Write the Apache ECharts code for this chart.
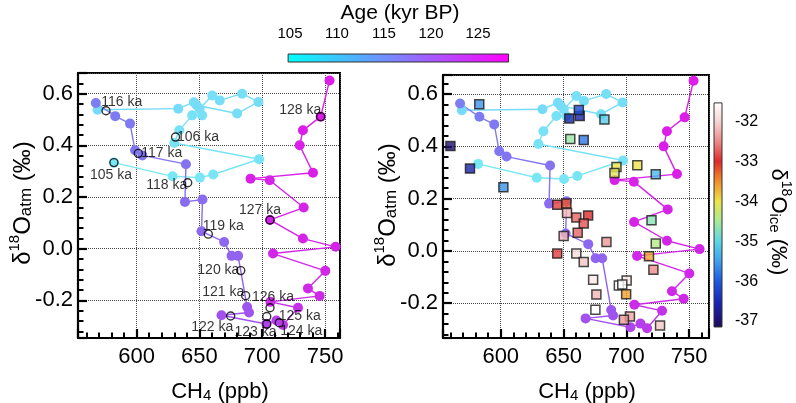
<!DOCTYPE html>
<html><head><meta charset="utf-8">
<script src="https://cdn.jsdelivr.net/npm/echarts@6/dist/echarts.min.js"></script>
<style>html,body{margin:0;padding:0;background:#fff}#c{width:796px;height:403px}</style>
</head><body><div id="c"></div>
<script>
const FONT = '"Liberation Sans", Arial, Helvetica, sans-serif';

// ---- circles (CH4 ppb, d18Oatm permil, age kyr BP), in age order ----
const dotCH4 = [582.0,628.7,650.4,661.0,697.5,630.0,634.0,644.3,652.2,650.2,660.2,666.2,684.0,697.0,680.0,647.8,645.6,633.2,569.0,
  567.6,583.0,594.8,598.8,604.6,639.3,638.5,652.5,651.7,669.7,675.6,680.8,688.0,689.5,667.6,703.3,711.3,716.6,728.5,706.5,745.7,736.4,750.2,708.6,758.4,732.4,706.2,733.0,706.0,690.7,740.4,729.8,732.4,746.5,753.6];
const dotD18O = [0.333,0.280,0.275,0.287,0.346,0.409,0.458,0.516,0.516,0.542,0.593,0.574,0.600,0.568,0.523,0.555,0.567,0.542,0.538,
  0.564,0.513,0.484,0.381,0.361,0.327,0.181,0.190,0.067,0.026,-0.028,-0.028,-0.226,-0.247,-0.258,-0.292,-0.278,-0.296,-0.229,-0.206,-0.183,-0.154,-0.086,-0.019,0.007,0.039,0.111,0.159,0.265,0.271,0.294,0.400,0.458,0.511,0.651];
const dotAge = [105.0,105.2,105.4,105.6,105.8,105.9,106.2,106.3,106.4,106.5,106.6,106.7,106.8,106.9,107.0,107.1,107.2,107.3,107.5,
  115.8,116.2,116.5,116.9,117.1,117.6,118.4,118.6,118.9,119.3,119.6,119.7,121.3,121.5,121.8,123.0,123.6,124.1,124.8,125.8,126.2,126.35,126.5,126.65,126.8,126.9,127.0,127.2,127.35,127.45,127.6,127.75,127.9,128.0,128.2];

// ---- age markers (left panel) ----
const kaNames = ['105 ka','106 ka','116 ka','117 ka','118 ka','119 ka','120 ka','121 ka','122 ka','123 ka','124 ka','125 ka','126 ka','127 ka','128 ka'];
const kaCH4 = [582.0,631.0,575.7,601.4,640.7,657.1,682.9,686.8,674.9,703.6,713.6,703.6,706.2,706.2,746.5];
const kaD18O = [0.333,0.432,0.534,0.369,0.255,0.056,-0.085,-0.182,-0.261,-0.292,-0.287,-0.263,-0.229,0.111,0.511];

// ---- squares (right panel): CH4, d18Oatm, d18Oice ----
const sqCH4 = [559.9,575.5,582.9,602.1,654.6,662.9,662.2,682.6,655.4,666.1,692.2,690.6,708.8,723.5,720.1,723.5,718.1,721.6,726.9,645.0,
  652.3,652.8,660.2,669.6,666.1,661.3,650.1,684.2,645.0,660.2,666.1,673.6,700.3,694.1,696.8,699.9,676.2,675.4,702.9,698.1];
const sqD18O = [0.401,0.315,0.561,0.244,0.507,0.516,0.539,0.503,0.428,0.424,0.321,0.298,0.328,0.293,0.117,0.028,-0.020,-0.072,-0.285,0.177,
  0.181,0.145,0.128,0.136,0.105,0.070,0.057,0.034,-0.010,-0.010,-0.042,-0.110,-0.113,-0.132,-0.128,-0.166,-0.167,-0.225,-0.251,-0.263];
const sqIce = [-37.0,-36.6,-35.6,-35.6,-36.6,-36.6,-36.1,-35.1,-34.6,-35.8,-34.0,-34.1,-34.0,-35.3,-34.7,-34.4,-33.6,-32.5,-32.1,-32.9,
  -33.2,-32.2,-32.7,-33.0,-32.8,-32.7,-32.2,-32.4,-32.9,-31.9,-32.1,-31.8,-31.8,-31.5,-31.5,-33.6,-32.2,-31.5,-32.3,-32.4];

// ---- colour bars ----
const ageBarRange = [104.8, 128.25];
const ageTickRange = [105, 125];
const iceBarRange = [-37.15, -31.52];
const iceTickRange = [-37, -32];

// ---- styles (not data) ----
const kaLabelOffset = [[-3,13],[22.5,0],[15.7,-8.4],[23.4,-0.6],[-21,2.3],[15,-8.3],[-22.4,-0.7],[-22.4,-4],[-18.5,10.7],[-11.2,7.7],[21.9,8],[33,0],[3,-10.4],[-10,-10],[-20.4,-6.7]];
const dotStops = [[105,[120,232,244]],[107.5,[118,218,248]],[116,[124,124,242]],[119,[140,105,240]],[122,[162,80,236]],[125,[198,48,232]],[128.3,[222,28,232]]];
const ageBarStops = [[0,'#00ffff'],[1,'#ff00ff']];
const iceStops = [[-37.15,'#1c0c58'],[-37.0,'#1e1070'],[-36.5,'#1828b8'],[-36.0,'#2058e0'],[-35.5,'#3fa0ee'],[-35.0,'#5cd6e6'],[-34.5,'#a8ea98'],
  [-34.0,'#ece44a'],[-33.6,'#f0a030'],[-33.3,'#ec6a28'],[-33.0,'#e02a2a'],[-32.5,'#ec8a8a'],[-32.0,'#f6d4d4'],[-31.52,'#ffffff']];

function hex(c){return [parseInt(c.slice(1,3),16),parseInt(c.slice(3,5),16),parseInt(c.slice(5,7),16)];}
function interp(stops, v){
  const s = stops.map(p => [p[0], typeof p[1]==='string'?hex(p[1]):p[1]]);
  if (v <= s[0][0]) return 'rgb('+s[0][1].join(',')+')';
  for (let i=1;i<s.length;i++){
    if (v <= s[i][0]){
      const t=(v-s[i-1][0])/(s[i][0]-s[i-1][0]);
      const c=s[i-1][1].map((a,k)=>Math.round(a+(s[i][1][k]-a)*t));
      return 'rgb('+c.join(',')+')';
    }
  }
  return 'rgb('+s[s.length-1][1].join(',')+')';
}
const dotColor = a => interp(dotStops, a);
const iceColor = v => interp(iceStops, v);
const nearMult = (v,m) => Math.abs(v/m - Math.round(v/m)) < 1e-6;

const dotData = dotCH4.map((x,i)=>[x, dotD18O[i], dotAge[i]]);
const segData = dotCH4.slice(0,-1).map((x,i)=>[x, dotD18O[i], dotAge[i], dotCH4[i+1], dotD18O[i+1]]);
const kaData = kaNames.map((n,i)=>({name:n, value:[kaCH4[i], kaD18O[i]], label:{offset:kaLabelOffset[i]}}));
const sqData = sqCH4.map((x,i)=>[x, sqD18O[i], sqIce[i]]);

function mainX(gi, min, max){
  return {gridIndex:gi, type:'value', min, max, splitNumber:4,
    axisLine:{show:true, onZero:false, lineStyle:{color:'#000', width:2.2}},
    axisTick:{show:true, inside:true, length:9, lineStyle:{color:'#000', width:2.2}},
    minorTick:{show:true, splitNumber:5, length:5.5, lineStyle:{color:'#000', width:2}},
    splitLine:{show:true, lineStyle:{color:'#444', type:'dotted', width:1}},
    axisLabel:{fontSize:22, color:'#000', fontFamily:FONT, margin:8, showMinLabel:false, showMaxLabel:false,
      formatter:v => nearMult(v,50) ? String(Math.round(v)) : ''}};
}
function mainY(gi, min, max){
  return {gridIndex:gi, type:'value', min, max, splitNumber:5,
    axisLine:{show:true, onZero:false, lineStyle:{color:'#000', width:2.2}},
    axisTick:{show:true, inside:true, length:9, lineStyle:{color:'#000', width:2.2}},
    minorTick:{show:true, splitNumber:5, length:5.5, lineStyle:{color:'#000', width:2}},
    splitLine:{show:true, lineStyle:{color:'#444', type:'dotted', width:1}},
    axisLabel:{fontSize:22, color:'#000', fontFamily:FONT, margin:5, showMinLabel:false, showMaxLabel:false,
      formatter:v => nearMult(v,0.2) ? v.toFixed(1) : ''}};
}

function segSeries(k){
  return {type:'custom', xAxisIndex:k, yAxisIndex:k, data:segData, encode:{x:[0,3], y:[1,4]}, z:2, silent:true,
    renderItem:(params, api)=>{
      const a = api.coord([api.value(0), api.value(1)]);
      const b = api.coord([api.value(3), api.value(4)]);
      return {type:'line', shape:{x1:a[0],y1:a[1],x2:b[0],y2:b[1]}, style:{stroke:dotColor(api.value(2)), lineWidth:1.4}};
    }};
}
function dotSeries(k){
  return {type:'scatter', xAxisIndex:k, yAxisIndex:k, data:dotData, symbol:'circle', symbolSize:10, z:3, silent:true,
    itemStyle:{color:p => dotColor(p.value[2]), opacity:1}};
}

const rich = (main) => ({
  m:{fontSize:main, fontFamily:FONT, lineHeight:main+4, verticalAlign:'bottom', fill:'#000', color:'#000'},
  sup:{fontSize:Math.round(main*0.64), fontFamily:FONT, lineHeight:Math.round(main*0.64), verticalAlign:'top', fill:'#000', color:'#000'},
  sub:{fontSize:Math.round(main*0.7), fontFamily:FONT, lineHeight:Math.round(main*0.5), verticalAlign:'bottom', fill:'#000', color:'#000'}
});

const chart = echarts.init(document.getElementById('c'), null, {renderer:'canvas'});
chart.setOption({
  animation:false,
  backgroundColor:'#fff',
  grid:[
    {left:78, top:73, width:262, height:265, show:true, borderColor:'#000', borderWidth:2, backgroundColor:'transparent'},
    {left:443, top:75, width:266, height:263, show:true, borderColor:'#000', borderWidth:2, backgroundColor:'transparent'},
    {left:290, top:54, width:188, height:8},
    {left:714, top:122, width:8, height:199}
  ],
  xAxis:[
    mainX(0, 553.4, 761.9),
    mainX(1, 554.0, 765.9),
    {gridIndex:2, type:'value', position:'top', min:ageTickRange[0], max:ageTickRange[1], interval:5,
      axisLine:{show:false}, splitLine:{show:false},
      axisTick:{show:true, inside:false, length:8, lineStyle:{color:'#000', width:1.4}},
      axisLabel:{fontSize:15, color:'#000', fontFamily:FONT, margin:13}},
    {gridIndex:3, type:'value', min:0, max:1, show:false}
  ],
  yAxis:[
    mainY(0, -0.346, 0.680),
    mainY(1, -0.333, 0.673),
    {gridIndex:2, type:'value', min:0, max:1, show:false},
    {gridIndex:3, type:'value', position:'right', min:iceTickRange[0], max:iceTickRange[1], interval:1,
      axisLine:{show:false}, splitLine:{show:false},
      axisTick:{show:true, inside:false, length:7, lineStyle:{color:'#000', width:1.4}},
      axisLabel:{fontSize:16, color:'#000', fontFamily:FONT, margin:13}}
  ],
  series:[
    segSeries(0), dotSeries(0),
    {type:'scatter', xAxisIndex:0, yAxisIndex:0, data:kaData, symbol:'circle', symbolSize:8, z:4, silent:true,
      itemStyle:{color:'rgba(255,255,255,0)', borderColor:'#000', borderWidth:1.4},
      label:{show:true, position:'inside', formatter:'{b}', fontSize:14, fontFamily:FONT, color:'#000'}},
    segSeries(1), dotSeries(1),
    {type:'scatter', xAxisIndex:1, yAxisIndex:1, data:sqData, symbol:'rect', symbolSize:9, z:5, silent:true,
      itemStyle:{color:p => iceColor(p.value[2]), borderColor:'#1a1a1a', borderWidth:1.5}},
    {type:'custom', xAxisIndex:2, yAxisIndex:2, data:[[ageBarRange[0], ageBarRange[1]]], encode:{x:[0,1]}, clip:false, silent:true,
      renderItem:(params, api)=>{
        const p0 = api.coord([api.value(0), 0]);
        const p1 = api.coord([api.value(1), 1]);
        return {type:'rect', shape:{x:p0[0], y:p1[1], width:p1[0]-p0[0], height:p0[1]-p1[1]},
          style:{fill:new echarts.graphic.LinearGradient(0,0,1,0, ageBarStops.map(s=>({offset:s[0], color:s[1]}))), stroke:'#333', lineWidth:1}};
      }},
    {type:'custom', xAxisIndex:3, yAxisIndex:3, data:[[iceBarRange[0], iceBarRange[1]]], encode:{y:[0,1]}, clip:false, silent:true,
      renderItem:(params, api)=>{
        const v0 = api.value(0), v1 = api.value(1);
        const p0 = api.coord([0, v0]);
        const p1 = api.coord([1, v1]);
        const stops = iceStops.map(s=>({offset:(s[0]-v0)/(v1-v0), color:s[1]}));
        return {type:'rect', shape:{x:p0[0], y:p1[1], width:p1[0]-p0[0], height:p0[1]-p1[1]},
          style:{fill:new echarts.graphic.LinearGradient(0,1,0,0, stops), stroke:'#333', lineWidth:1}};
      }}
  ],
  graphic:[
    {type:'text', x:21, y:203, rotation:Math.PI/2, silent:true,
      style:{text:'{m|δ}{sup|18}{m|O}{sub|atm}{m| (‰)}', rich:rich(24), align:'center', verticalAlign:'middle', fill:'#000'}},
    {type:'text', x:386, y:205, rotation:Math.PI/2, silent:true,
      style:{text:'{m|δ}{sup|18}{m|O}{sub|atm}{m| (‰)}', rich:rich(24), align:'center', verticalAlign:'middle', fill:'#000'}},
    {type:'text', x:220, y:390, silent:true,
      style:{text:'{m|CH}{sub|4}{m| (ppb)}', rich:rich(22), align:'center', verticalAlign:'middle', fill:'#000'}},
    {type:'text', x:587, y:390, silent:true,
      style:{text:'{m|CH}{sub|4}{m| (ppb)}', rich:rich(22), align:'center', verticalAlign:'middle', fill:'#000'}},
    {type:'text', x:400, y:13, silent:true,
      style:{text:'Age (kyr BP)', fontSize:21, fontFamily:FONT, align:'center', verticalAlign:'middle', fill:'#000'}},
    {type:'text', x:780, y:222, rotation:-Math.PI/2, silent:true,
      style:{text:'{m|δ}{sup|18}{m|O}{sub|ice}{m| (‰)}', rich:rich(22), align:'center', verticalAlign:'middle', fill:'#000'}}
  ]
});
</script>
</body></html>
